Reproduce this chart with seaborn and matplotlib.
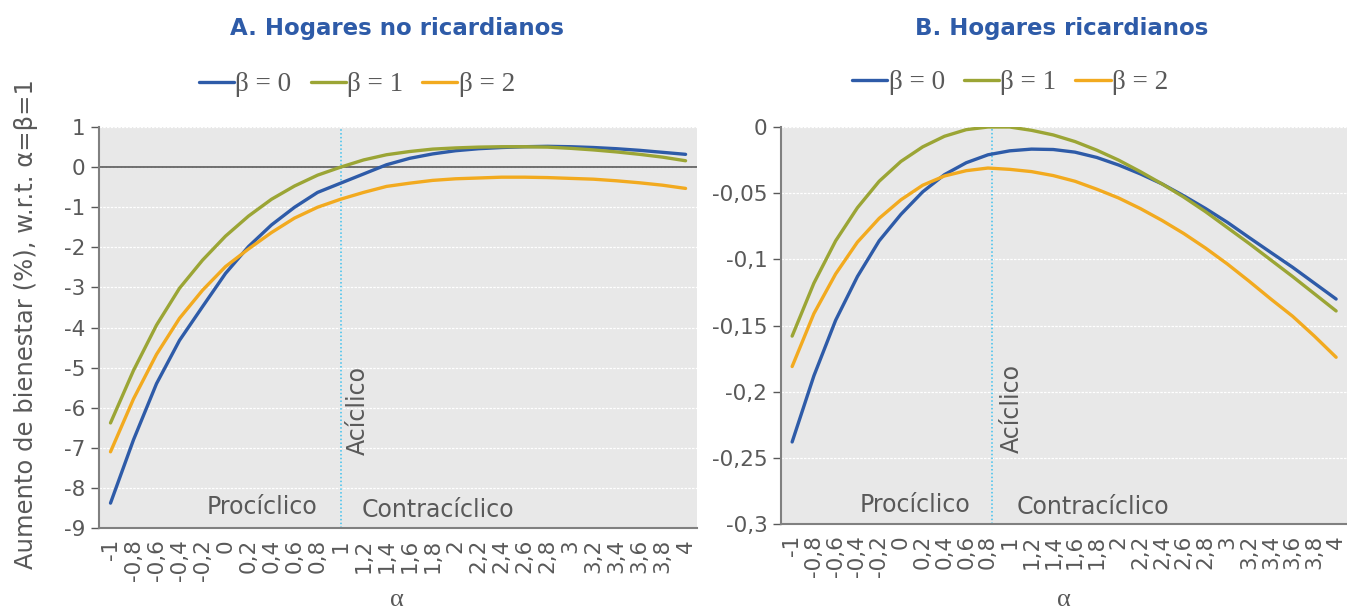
import numpy as np
import pandas as pd
import seaborn as sns
import matplotlib.pyplot as plt
from matplotlib.ticker import FuncFormatter

# alpha grid (category axis in the original)
alpha = [-1, -0.8, -0.6, -0.4, -0.2, 0, 0.2, 0.4, 0.6, 0.8, 1, 1.2, 1.4, 1.6, 1.8,
         2, 2.2, 2.4, 2.6, 2.8, 3, 3.2, 3.4, 3.6, 3.8, 4]
series_names = ['β = 0', 'β = 1', 'β = 2']

# A. non-Ricardian households
left_b0 = [-8.38, -6.8, -5.4, -4.32, -3.48, -2.65, -1.98, -1.44, -1.0, -0.63, -0.4,
           -0.17, 0.06, 0.22, 0.33, 0.41, 0.46, 0.49, 0.51, 0.52, 0.51, 0.49, 0.46,
           0.42, 0.37, 0.32]
left_b1 = [-6.38, -5.07, -3.94, -3.02, -2.32, -1.72, -1.22, -0.8, -0.47, -0.2, 0.0,
           0.18, 0.31, 0.39, 0.45, 0.48, 0.5, 0.51, 0.51, 0.5, 0.47, 0.43, 0.38,
           0.32, 0.25, 0.16]
left_b2 = [-7.1, -5.78, -4.67, -3.77, -3.07, -2.48, -2.04, -1.63, -1.27, -1.0, -0.8,
           -0.63, -0.48, -0.4, -0.33, -0.29, -0.27, -0.25, -0.25, -0.26, -0.28, -0.3,
           -0.34, -0.39, -0.45, -0.53]

# B. Ricardian households
right_b0 = [-0.238, -0.188, -0.146, -0.113, -0.086, -0.066, -0.049, -0.036, -0.027,
            -0.021, -0.018, -0.0167, -0.017, -0.019, -0.023, -0.0287, -0.0354, -0.043,
            -0.052, -0.0616, -0.072, -0.0835, -0.0948, -0.106, -0.118, -0.130]
right_b1 = [-0.158, -0.118, -0.086, -0.061, -0.041, -0.026, -0.015, -0.007, -0.002,
            0.0, 0.0, -0.0025, -0.006, -0.011, -0.0175, -0.025, -0.0337, -0.043,
            -0.053, -0.064, -0.076, -0.088, -0.1005, -0.113, -0.126, -0.139]
right_b2 = [-0.181, -0.141, -0.111, -0.087, -0.069, -0.055, -0.044, -0.037, -0.033,
            -0.031, -0.032, -0.0337, -0.0367, -0.041, -0.047, -0.0536, -0.0616, -0.0706,
            -0.0805, -0.0915, -0.1035, -0.1165, -0.130, -0.143, -0.158, -0.174]

left_yticks = [1, 0, -1, -2, -3, -4, -5, -6, -7, -8, -9]
right_yticks = [0, -0.05, -0.1, -0.15, -0.2, -0.25, -0.3]

titles = ['A. Hogares no ricardianos', 'B. Hogares ricardianos']
ylabel = 'Aumento de bienestar (%), w.r.t. α=β=1'

colors = ['#2E5BA8', '#9BA535', '#F2AA1F']
gray = '#595959'

sns.set_style('white')
plt.rcParams['font.family'] = ['DejaVu Sans']


def to_long(b0, b1, b2):
    frames = []
    for name, vals in zip(series_names, [b0, b1, b2]):
        frames.append(pd.DataFrame({'alpha': alpha, 'val': vals, 'serie': name}))
    return pd.concat(frames, ignore_index=True)


def comma(v, pos=None):
    s = ('%g' % round(v, 4)).replace('.', ',')
    return '0' if s == '-0' else s


fig = plt.figure(figsize=(13.47, 6.13), dpi=100)
ax1 = fig.add_axes([0.0735, 0.1387, 0.444, 0.654])
ax2 = fig.add_axes([0.580, 0.1452, 0.420, 0.6476])

panels = [
    (ax1, to_long(left_b0, left_b1, left_b2), left_yticks, 1.0, (0.265, 0.862), 0.295),
    (ax2, to_long(right_b0, right_b1, right_b2), right_yticks, 0.84, (0.75, 0.865), 0.79),
]

for i, (ax, df, yt, vline, legpos, xlab_x) in enumerate(panels):
    ax.set_facecolor('#E8E8E8')
    sns.lineplot(data=df, x='alpha', y='val', hue='serie', palette=colors,
                 linewidth=2.4, ax=ax, legend=True)

    ax.set_xlim(-1.1, 4.1)
    ax.set_ylim(min(yt), max(yt))
    ax.set_yticks(yt)
    ax.yaxis.set_major_formatter(FuncFormatter(comma))
    ax.set_xticks(alpha)
    ax.set_xticklabels([comma(a) for a in alpha], rotation=90)
    ax.tick_params(axis='y', labelsize=15.5, colors=gray, length=6, width=1,
                   direction='out', left=True, pad=4)
    ax.tick_params(axis='x', labelsize=15.5, colors=gray, length=0, pad=8)
    ax.yaxis.grid(True, color='white', linestyle=(0, (2, 1)), linewidth=0.9)
    ax.xaxis.grid(False)
    ax.set_axisbelow(True)
    for sp in ['top', 'right']:
        ax.spines[sp].set_visible(False)
    for sp in ['left', 'bottom']:
        ax.spines[sp].set_color('#808080')
        ax.spines[sp].set_linewidth(1.5)

    ax.axvline(vline, color='#3EC1EE', linestyle=(0, (1, 1.5)), linewidth=1.1, zorder=1)
    if i == 0:
        ax.axhline(0, color='#595959', linewidth=1.2, zorder=1)

    ax.set_xlabel('')
    ax.set_ylabel('')

    handles, labels = ax.get_legend_handles_labels()
    ax.get_legend().remove()
    fig.legend(handles, labels, loc='center', bbox_to_anchor=legpos, ncol=3,
               frameon=False, handlelength=1.3, handletextpad=0.05,
               columnspacing=0.7, prop={'family': 'Liberation Serif', 'size': 19.5},
               labelcolor=gray)

    fig.text(xlab_x, 0.022, 'α', ha='center', va='center', color=gray,
             family='Liberation Serif', fontsize=19)

    ax.text(0.273 if i == 0 else 0.237, 0.052 if i == 0 else 0.048, 'Procíclico',
            transform=ax.transAxes, ha='center', va='center', color=gray, fontsize=17)
    ax.text(0.567 if i == 0 else 0.551, 0.045 if i == 0 else 0.043, 'Contracíclico',
            transform=ax.transAxes, ha='center', va='center', color=gray, fontsize=17)
    ax.text(0.433 if i == 0 else 0.408, 0.294 if i == 0 else 0.292, 'Acíclico',
            transform=ax.transAxes, ha='center', va='center', color=gray, fontsize=17,
            rotation=90)

fig.text(0.295, 0.954, titles[0], ha='center', va='center', color='#2E5BA8',
         fontsize=16.5, fontweight='bold')
fig.text(0.788, 0.954, titles[1], ha='center', va='center', color='#2E5BA8',
         fontsize=16.5, fontweight='bold')
fig.text(0.019, 0.471, ylabel, ha='center', va='center', rotation=90, color=gray,
         fontsize=17.5)

fig.savefig('out.png', dpi=100)
